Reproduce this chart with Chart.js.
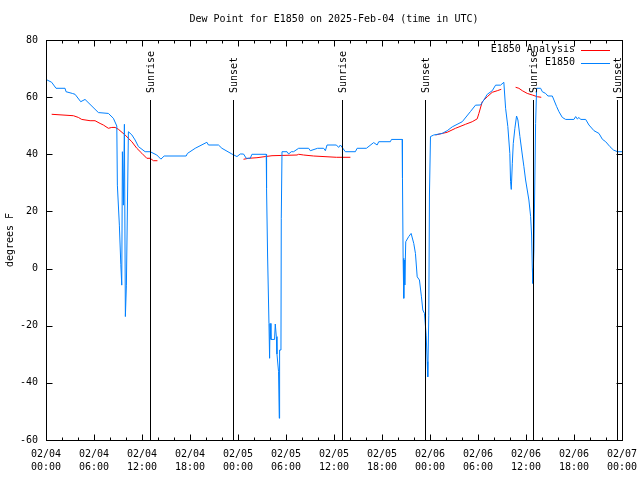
<!DOCTYPE html>
<html><head><meta charset="utf-8">
<script src="https://cdn.jsdelivr.net/npm/chart.js@4/dist/chart.umd.min.js"></script>
<style>html,body{margin:0;padding:0;background:#fff}</style>
</head><body>
<canvas id="c" width="640" height="480"></canvas>
<script>
// Hours since 2025-02-04 00:00 UTC
const hoursBlue = [0,0.71,1.25,2.38,2.50,3.29,3.63,4.34,4.88,6.55,
  7.80,8.42,8.85,8.92,9.17,9.35,9.47,9.55,9.67,9.80,
  9.92,10.05,10.30,10.73,11.14,11.55,12.39,13.02,13.85,14.36,
  14.77,17.52,17.68,18.65,20.11,20.31,21.56,21.99,23.24,23.87,
  24.28,24.69,25.03,25.53,25.74,27.53,27.57,27.70,27.87,27.95,
  28.00,28.12,28.57,28.66,28.79,28.87,29.07,29.16,29.20,29.37,
  29.41,29.50,30.13,30.33,30.66,30.95,31.58,32.83,33.04,33.95,
  34.71,34.92,35.13,36.30,36.58,36.80,37.42,38.67,38.89,40.05,
  40.96,41.39,41.59,43.05,43.18,44.52,44.56,44.64,44.72,44.81,
  44.84,44.97,45.34,45.64,45.97,46.18,46.40,46.68,46.93,47.10,
  47.31,47.52,47.65,47.72,47.85,47.93,48.06,48.47,49.52,50.15,
  50.78,52.03,53.07,53.69,54.32,54.73,55.16,55.78,56.20,56.82,
  57.23,57.45,57.73,57.98,58.07,58.16,58.29,58.41,58.61,58.82,
  58.99,59.24,59.54,59.74,59.95,60.36,60.58,60.70,60.79,60.86,
  60.99,61.20,61.33,61.83,62.04,62.45,62.74,63.29,63.83,64.12,
  64.54,64.96,65.99,66.21,66.42,66.62,66.83,67.46,67.87,68.50,
  69.12,69.55,69.96,70.50,70.93,71.43,72.0];
const dewBlue = [66.2,65.2,63.1,63.1,61.9,61.3,61.0,58.4,59.2,54.6,
  54.3,52.6,49.9,29.2,15.2,1.5,-5.8,40.9,22.2,50.5,
  -16.8,-5.8,47.9,46.8,45.0,42.7,40.9,40.9,39.75,38.3,
  39.4,39.4,40.3,42.1,44.2,43.25,43.25,42.1,40.1,39.2,
  40.1,40.1,38.6,38.6,40.0,40.0,28.1,4.4,-19.2,-31.4,
  -19.2,-24.8,-24.8,-19.4,-23.8,-29.9,-36.1,-52.4,-28.5,-28.5,
  17.6,40.9,40.9,40.1,40.9,40.9,42.1,42.1,41.25,42.1,
  42.1,41.25,43.25,43.25,42.4,43.25,40.9,40.9,42.1,42.1,
  44.1,43.25,44.4,44.4,45.2,45.2,31.6,3.6,-10.4,3.0,
  -5.75,9.4,11.2,12.3,8.8,5.3,-2.9,-4.0,-9.9,-14.5,
  -15.7,-23.3,-32.6,-37.9,-16.3,25.75,46.2,46.75,47.3,48.25,
  49.6,51.4,55.0,57.2,57.25,59.0,61.0,62.25,64.2,64.2,
  65.2,56.1,49.7,40.3,30.4,27.7,36.85,43.8,49.1,53.4,
  52.0,46.2,39.75,35.65,31.0,24.0,18.2,11.75,0.1,-5.2,
  6.5,50.8,63.1,63.1,61.9,61.3,60.4,60.4,56.7,54.9,
  52.9,52.2,52.2,53.2,52.35,52.9,52.2,52.2,50.25,48.25,
  47.3,45.25,44.4,42.65,41.5,40.9,40.9];

const hoursRed = [0.71,3.42,4.04,4.47,5.51,6.13,6.76,7.17,7.80,8.22,
  8.64,9.05,9.89,10.73,11.35,11.98,12.60,13.02,13.43,13.93,
  19.0,
  24.69,25.32,26.37,27.41,28.25,31.38,31.58,32.20,33.45,36.30,38.05,
  43.0,
  48.69,49.52,50.15,51.19,52.44,53.28,53.90,54.11,54.53,55.16,55.78,56.41,56.91,
  57.8,
  58.70,59.11,59.54,60.16,60.79,61.41,61.91];
const dewRed = [54,53.5,52.9,52.2,51.75,51.75,50.8,50.25,49.1,49.4,
  49.4,48.75,46.75,44.4,42.1,40.35,38.6,38.6,37.75,37.75,
  null,
  38.25,38.6,38.8,39.2,39.5,39.75,40,39.75,39.4,38.95,38.95,
  null,
  46.75,47.3,47.7,49.1,50.5,51.4,52.4,54.3,58.4,60.15,61.7,62.25,62.75,
  null,
  63.45,63.1,62.25,61.3,60.75,60.15,59.95];

const sunHours = [13.02, 23.40, 37.05, 47.43, 60.86, 71.34];
const sunLabels = ['Sunrise','Sunset','Sunrise','Sunset','Sunrise','Sunset'];

const tickDates = ['02/04','02/04','02/04','02/04','02/05','02/05','02/05','02/05','02/06','02/06','02/06','02/06','02/07'];
const tickTimes = ['00:00','06:00','12:00','18:00','00:00','06:00','12:00','18:00','00:00','06:00','12:00','18:00','00:00'];
const yTicks = [-60,-40,-20,0,20,40,60,80];

const seriesNames = ['E1850 Analysis','E1850'];
const seriesColors = ['#ff0000','#0080ff'];

const FONT = 'DejaVu Sans Mono';
Chart.defaults.font.family = FONT;
Chart.defaults.font.size = 10;
Chart.defaults.color = '#000';

const toPts = (xs, ys) => xs.map((x, i) => ({x: x, y: ys[i]}));

const gnuPlugin = {
  id: 'gnu',
  afterDatasetsDraw(chart) {
    const ctx = chart.ctx, a = chart.chartArea;
    const xs = chart.scales.x, ys = chart.scales.y;
    ctx.save();
    ctx.strokeStyle = '#000';
    ctx.lineWidth = 1;
    ctx.fillStyle = '#000';
    ctx.font = '10px ' + FONT;
    // sunrise / sunset lines
    sunHours.forEach((h, i) => {
      const x = Math.round(xs.getPixelForValue(h)) + 0.5;
      ctx.beginPath(); ctx.moveTo(x, a.bottom); ctx.lineTo(x, a.top + 60); ctx.stroke();
      ctx.save();
      ctx.translate(x + 1, a.top + 53);
      ctx.rotate(-Math.PI / 2);
      ctx.textAlign = 'left'; ctx.textBaseline = 'middle';
      ctx.fillText(sunLabels[i], 0, 0);
      ctx.restore();
    });
    // frame
    const L = Math.round(a.left) + 0.5, R = Math.round(a.right) + 0.5;
    const T = Math.round(a.top) + 0.5, B = Math.round(a.bottom) + 0.5;
    ctx.strokeRect(L, T, R - L, B - T);
    // y ticks (both sides, inward)
    yTicks.forEach(v => {
      const y = Math.round(ys.getPixelForValue(v)) + 0.5;
      ctx.beginPath();
      ctx.moveTo(L, y); ctx.lineTo(L + 6, y);
      ctx.moveTo(R, y); ctx.lineTo(R - 6, y);
      ctx.stroke();
    });
    // x ticks (bottom & top, inward)
    for (let h = 0; h <= 72; h += 2) {
      const x = Math.round(xs.getPixelForValue(h)) + 0.5;
      const len = (h % 6 === 0) ? 6 : 3;
      ctx.beginPath();
      ctx.moveTo(x, B); ctx.lineTo(x, B - len);
      ctx.moveTo(x, T); ctx.lineTo(x, T + len);
      ctx.stroke();
    }
    // title
    ctx.textAlign = 'center'; ctx.textBaseline = 'middle';
    ctx.fillText('Dew Point for E1850 on 2025-Feb-04 (time in UTC)', (a.left + a.right) / 2, 19);
    // y axis title
    ctx.save();
    ctx.translate(10, (a.top + a.bottom) / 2);
    ctx.rotate(-Math.PI / 2);
    ctx.fillText('degrees F', 0, 0);
    ctx.restore();
    // legend
    ctx.textAlign = 'right';
    seriesNames.forEach((n, i) => {
      const y = 49.5 + i * 13;
      ctx.fillStyle = '#000';
      ctx.fillText(n, 575, y);
      ctx.strokeStyle = seriesColors[i];
      ctx.beginPath(); ctx.moveTo(581, Math.round(y) + 0.5); ctx.lineTo(610, Math.round(y) + 0.5); ctx.stroke();
    });
    ctx.restore();
  }
};

new Chart(document.getElementById('c'), {
  type: 'line',
  data: {
    datasets: [
      { label: seriesNames[1], data: toPts(hoursBlue, dewBlue), borderColor: seriesColors[1],
        borderWidth: 1, pointRadius: 0, tension: 0, fill: false },
      { label: seriesNames[0], data: toPts(hoursRed, dewRed), borderColor: seriesColors[0],
        borderWidth: 1, pointRadius: 0, tension: 0, fill: false, spanGaps: false }
    ]
  },
  options: {
    responsive: false, animation: false, devicePixelRatio: 1,
    layout: { padding: { top: 40, right: 18, left: 0, bottom: 0 } },
    plugins: { legend: { display: false }, tooltip: { enabled: false }, title: { display: false } },
    scales: {
      x: {
        type: 'linear', min: 0, max: 72,
        grid: { display: false, drawTicks: false },
        border: { display: false },
        ticks: { stepSize: 6, autoSkip: false, maxRotation: 0, padding: 8, color: '#000',
          font: { family: FONT, size: 10, lineHeight: 1.3 },
          callback: (v) => { const i = Math.round(v / 6); return [tickDates[i], tickTimes[i]]; } },
        afterFit: (s) => { s.height = 40; s.paddingRight = 0; s.paddingLeft = 0; }
      },
      y: {
        min: -60, max: 80,
        grid: { display: false, drawTicks: false },
        border: { display: false },
        ticks: { stepSize: 20, padding: 8, color: '#000', font: { family: FONT, size: 10 } },
        afterFit: (s) => { s.width = 46; s.paddingTop = 0; s.paddingBottom = 0; }
      }
    }
  },
  plugins: [gnuPlugin]
});
</script>
</body></html>
